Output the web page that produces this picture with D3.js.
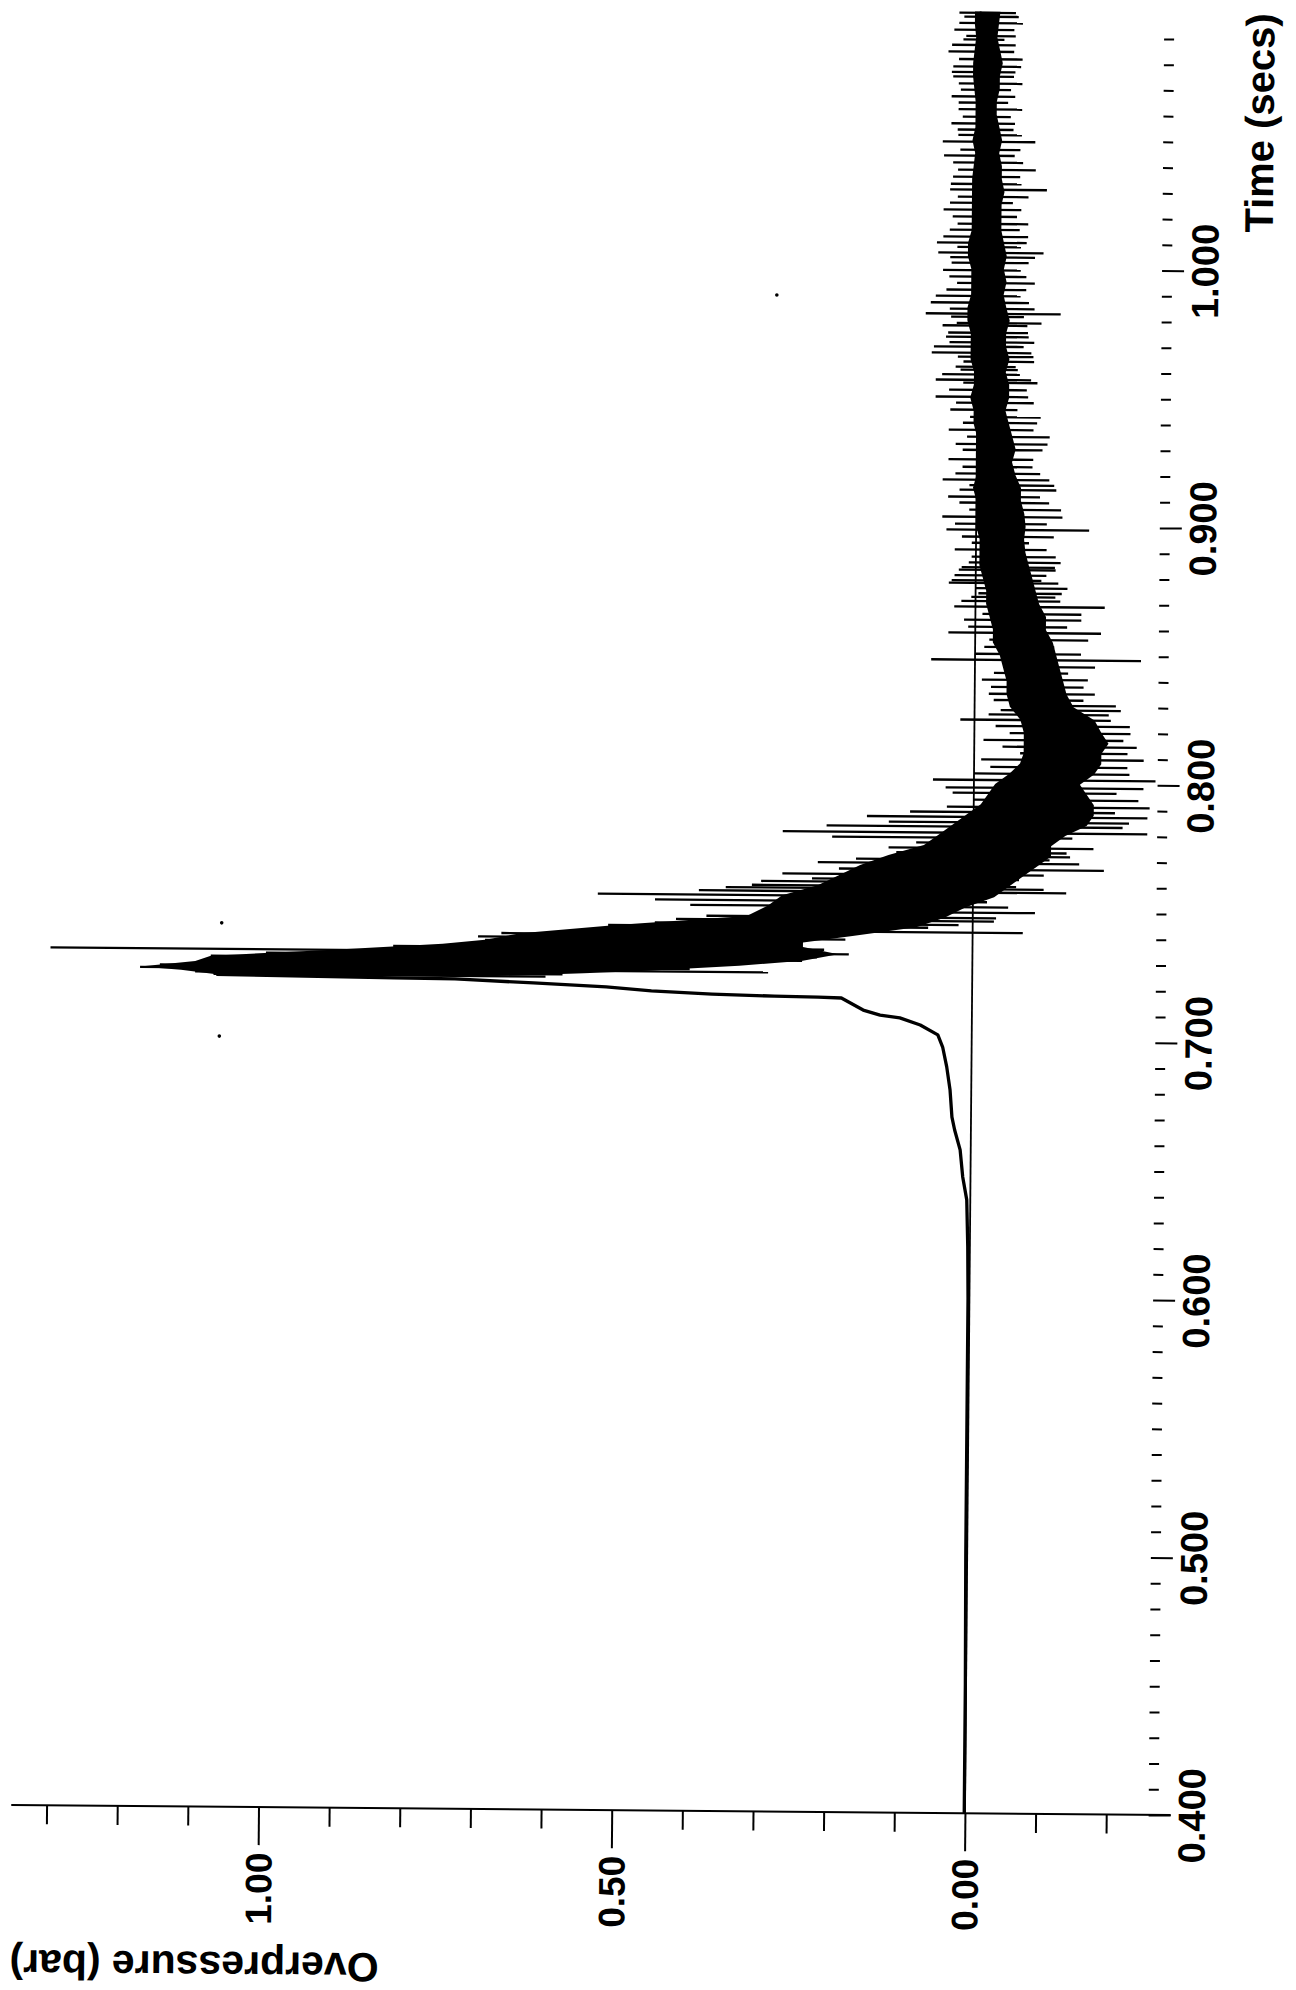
<!DOCTYPE html>
<html><head><meta charset="utf-8">
<script src="https://cdn.jsdelivr.net/npm/d3@7"></script>
<style>
body{margin:0;background:#fff}
svg text{font-family:Arial,"Liberation Sans",sans-serif;font-weight:bold;fill:#000}
</style>
</head><body>
<svg id="chart" width="1296" height="1990"></svg>
<script>
// ---- data (time in s, overpressure in bar) ----
const riseT = [0.400,0.450,0.500,0.550,0.600,0.620,0.6383,0.6472,0.6577,0.6654,0.6704,0.6809,0.6899,0.6976,0.7023,0.7061,0.7088,0.7098,0.7117,0.7163,0.7166,0.7168,0.7174,0.7184,0.7198,0.7211,0.7224,0.7226,0.7228,0.7234];
const riseP = [0.001,0.001,0.002,0.002,0.002,0.003,0.005,0.011,0.015,0.023,0.027,0.030,0.035,0.041,0.048,0.073,0.102,0.130,0.154,0.185,0.218,0.280,0.368,0.454,0.518,0.621,0.732,0.818,0.890,1.070];

const coreT = [0.7234,0.7250,0.7262,0.7285,0.7306,0.7333,0.7360,0.7377,0.7404,0.7440,0.7478,0.7520,0.7560,0.7600,0.7640,0.7680,0.7720,0.7760,0.7800,0.7840,0.7880,0.7920,0.7960,0.8000,0.8040,0.8080,0.8120,0.8160,0.8200,0.8250,0.8300,0.8350,0.8400,0.8450,0.8500,0.8550,0.8600,0.8650,0.8700,0.8750,0.8800,0.8850,0.8900,0.8950,0.9000,0.9050,0.9100,0.9150,0.9200,0.9250,0.9300,0.9350,0.9400,0.9450,0.9500,0.9550,0.9600,0.9650,0.9700,0.9750,0.9800,0.9850,0.9900,0.9950,1.0000,1.0050,1.0100,1.0150,1.0200,1.0250,1.0300,1.0350,1.0400,1.0450,1.0500,1.0550,1.0600,1.0650,1.0700,1.0750,1.0800,1.0850,1.0900,1.0950,1.1000];
const coreHi = [1.07,1.12,1.178,1.10,1.078,0.905,0.75,0.69,0.64,0.50,0.32,0.29,0.27,0.22,0.19,0.16,0.12,0.07,0.05,0.03,0.01,-0.01,-0.02,-0.03,-0.05,-0.065,-0.07,-0.07,-0.07,-0.065,-0.05,-0.045,-0.045,-0.04,-0.035,-0.025,-0.025,-0.02,-0.015,-0.015,-0.01,-0.005,-0.005,-0.005,0.00,0.00,0.00,0.005,0.00,0.00,0.00,0.00,0.005,0.005,0.01,0.005,0.005,0.01,0.01,0.01,0.015,0.015,0.01,0.01,0.01,0.015,0.015,0.01,0.01,0.01,0.01,0.01,0.008,0.006,0.01,0.006,0.006,0.006,0.008,0.01,0.01,0.008,0.006,0.008,0.008];
const coreLo = [0.70,0.55,0.46,0.33,0.24,0.19,0.24,0.24,0.17,0.08,0.04,0.01,-0.03,-0.05,-0.07,-0.09,-0.11,-0.11,-0.13,-0.16,-0.17,-0.17,-0.16,-0.15,-0.17,-0.18,-0.18,-0.19,-0.18,-0.17,-0.14,-0.13,-0.125,-0.12,-0.115,-0.11,-0.10,-0.10,-0.09,-0.085,-0.08,-0.075,-0.07,-0.068,-0.07,-0.068,-0.063,-0.063,-0.055,-0.05,-0.055,-0.05,-0.045,-0.04,-0.045,-0.045,-0.04,-0.045,-0.04,-0.04,-0.045,-0.04,-0.036,-0.04,-0.036,-0.04,-0.036,-0.032,-0.032,-0.032,-0.036,-0.032,-0.032,-0.028,-0.032,-0.028,-0.024,-0.024,-0.028,-0.028,-0.032,-0.028,-0.024,-0.026,-0.028];

// excursions read as row extremes
const spikeT = [0.7236,0.7260,0.7295,0.7306,0.7333,0.7377,0.7404,0.7421,0.7439,0.7478,0.7499,0.7560,0.7577,0.7600,0.7627,0.7666,0.7705,0.7717,0.7732,0.7770,0.7809,0.7833,0.7871,0.7910,0.7938,0.7965,0.8015,0.8066,0.8120,0.8171,0.8198,0.8249,0.8287,0.8326,0.8377,0.8431,0.8482,0.8532,0.8587,0.8637,0.8688,0.8726,0.8740,0.8780,0.8790,0.8831,0.8841,0.8882,0.8936,0.8987,0.9037,0.9092,0.9142,0.9181,0.9231,0.9297,0.9348,0.9402,0.9453,0.9503,0.9558,0.9569,0.9608,0.9620,0.9659,0.9674,0.9698,0.9736,0.9752,0.9814,0.9826,0.9869,0.9919,0.9970,1.0024,1.0063,1.0102,1.0152,1.0203,1.0257,1.0308,1.0358,1.0413,1.0463,1.0494,1.0541,1.0591,1.0646,1.0696,1.0747,1.0786,1.0844,1.0891,1.0929,1.0980];
const spikeHi = [1.074,1.178,0.98,1.078,1.305,0.690,0.667,0.40,0.516,0.377,0.30,0.531,0.388,0.313,0.228,0.190,0.166,0.10,0.109,0.081,0.270,0.208,0.151,0.038,0.00,0.030,0.058,-0.023,-0.065,-0.013,-0.05,0.020,-0.037,-0.027,-0.023,-0.027,0.062,-0.013,0.038,0.016,0.030,0.006,-0.004,0.038,0.034,0.024,0.020,0.006,0.006,0.042,0.048,0.024,0.024,0.048,0.020,0.020,0.014,0.020,0.038,0.059,0.020,0.059,0.024,0.031,0.028,0.065,0.062,0.045,0.042,0.038,0.074,0.067,0.045,0.041,0.038,0.057,0.059,0.041,0.037,0.041,0.041,0.037,0.037,0.027,0.052,0.031,0.024,0.030,0.027,0.038,0.038,0.045,0.024,0.037,0.023];
const spikeLo = [0.604,0.289,0.35,0.241,0.175,0.269,0.202,-0.071,0.063,-0.033,-0.088,0.10,-0.132,-0.061,-0.065,-0.185,-0.108,-0.137,-0.132,-0.084,-0.246,-0.211,-0.246,-0.249,-0.233,-0.202,-0.257,-0.217,-0.217,-0.211,-0.221,-0.193,-0.207,-0.154,-0.154,-0.132,-0.235,-0.112,-0.178,-0.150,-0.183,-0.113,-0.122,-0.117,-0.093,-0.113,-0.112,-0.113,-0.075,-0.16,-0.122,-0.103,-0.113,-0.103,-0.079,-0.093,-0.103,-0.085,-0.057,-0.072,-0.085,-0.076,-0.057,-0.054,-0.079,-0.076,-0.065,-0.072,-0.071,-0.065,-0.117,-0.072,-0.068,-0.068,-0.071,-0.092,-0.068,-0.058,-0.054,-0.048,-0.096,-0.058,-0.062,-0.058,-0.079,-0.048,-0.044,-0.040,-0.044,-0.048,-0.058,-0.048,-0.034,-0.048,-0.054];

// shorter excursions estimated between the rows above
const minorT = [0.7245,0.7270,0.7320,0.7350,0.7390,0.7450,0.7465,0.7520,0.7540,0.7590,0.7615,0.7645,0.7690,0.7750,0.7790,0.7850,0.7890,0.7985,0.8040,0.8095,0.8145,0.8225,0.8270,0.8305,0.8350,0.8405,0.8455,0.8505,0.8560,0.8610,0.8660,0.8710,0.8760,0.8810,0.8860,0.8910,0.8960,0.9010,0.9065,0.9115,0.9160,0.9205,0.9260,0.9320,0.9375,0.9425,0.9480,0.9530,0.9590,0.9640,0.9715,0.9780,0.9790,0.9845,0.9895,0.9945,0.9995,1.0045,1.0085,1.0125,1.0175,1.0230,1.0280,1.0330,1.0385,1.0440,1.0520,1.0565,1.0620,1.0670,1.0720,1.0765,1.0815,1.0870,1.0905,1.0955,1.0995];
const minorHi = [1.10,1.15,1.00,0.82,0.70,0.45,0.42,0.40,0.45,0.35,0.30,0.27,0.22,0.12,0.20,0.12,0.09,0.04,0.00,-0.01,-0.04,-0.03,-0.02,-0.05,-0.02,-0.01,-0.04,0.00,-0.02,0.01,-0.01,0.02,0.00,0.03,0.01,0.03,0.02,0.03,0.01,0.04,0.01,0.03,0.04,0.03,0.04,0.01,0.03,0.04,0.05,0.02,0.04,0.05,0.03,0.04,0.06,0.03,0.05,0.04,0.03,0.05,0.03,0.05,0.03,0.04,0.03,0.05,0.03,0.04,0.03,0.04,0.03,0.04,0.03,0.04,0.02,0.03,0.03];
const minorLo = [0.58,0.40,0.22,0.21,0.18,0.02,-0.03,-0.05,-0.02,-0.10,-0.04,-0.10,-0.15,-0.17,-0.14,-0.22,-0.20,-0.24,-0.22,-0.24,-0.23,-0.22,-0.19,-0.20,-0.17,-0.16,-0.17,-0.15,-0.16,-0.13,-0.15,-0.12,-0.13,-0.10,-0.12,-0.10,-0.11,-0.10,-0.12,-0.09,-0.11,-0.09,-0.08,-0.10,-0.08,-0.09,-0.08,-0.07,-0.06,-0.08,-0.08,-0.07,-0.09,-0.08,-0.06,-0.08,-0.06,-0.08,-0.06,-0.07,-0.07,-0.06,-0.07,-0.06,-0.08,-0.05,-0.06,-0.05,-0.06,-0.05,-0.06,-0.05,-0.06,-0.05,-0.05,-0.06,-0.05];

const strayT = [0.6994,0.7434,0.9892];
const strayP = [1.065,1.063,0.285];

const pressureMajor = [0, 0.5, 1.0];
const pressureLabels = ["0.00", "0.50", "1.00"];
const pressureMinor = [-0.2,-0.1,0.1,0.2,0.3,0.4,0.6,0.7,0.8,0.9,1.1,1.2,1.3];
const timeMajor = [0.4,0.5,0.6,0.7,0.8,0.9,1.0];
const timeLabels = ["0.400","0.500","0.600","0.700","0.800","0.900","1.000"];
const timeMinorStep = 0.01;

// ---- scales ----
const x = d3.scaleLinear().domain([-0.26, 1.35]).range([1155.7, 18.3]);
const y = d3.scaleLinear().domain([0.4, 1.1]).range([1810.5, 8.7]);

const svg = d3.select("#chart");
const g = svg.append("g").attr("transform", "rotate(0.5,650,1000)");

// zero reference line
g.append("line")
  .attr("x1", x(0)).attr("x2", x(0))
  .attr("y1", y(0.4)).attr("y2", y(1.1))
  .attr("stroke", "#000").attr("stroke-width", 1.8);

// pre-blast rise
const rise = riseT.map((t, i) => [t, riseP[i]]);
g.append("path").datum(rise)
  .attr("d", d3.line().x(d => x(d[1])).y(d => y(d[0])))
  .attr("fill", "none").attr("stroke", "#000").attr("stroke-width", 3.3)
  .attr("stroke-linejoin", "round");

// dense noise core
const core = coreT.map((t, i) => ({t, hi: coreHi[i], lo: coreLo[i]}));
g.append("path").datum(core)
  .attr("d", d3.area().y(d => y(d.t)).x0(d => x(d.hi)).x1(d => x(d.lo)))
  .attr("fill", "#000");

// excursions
const spikes = spikeT.map((t, i) => ({t, hi: spikeHi[i], lo: spikeLo[i]}))
  .concat(minorT.map((t, i) => ({t, hi: minorHi[i], lo: minorLo[i]})));
g.append("g").selectAll("line").data(spikes).join("line")
  .attr("x1", d => x(d.hi)).attr("x2", d => x(d.lo))
  .attr("y1", d => y(d.t)).attr("y2", d => y(d.t))
  .attr("stroke", "#000").attr("stroke-width", 2.3);

// stray marks
g.append("g").selectAll("circle").data(strayT.map((t, i) => ({t, p: strayP[i]}))).join("circle")
  .attr("cx", d => x(d.p)).attr("cy", d => y(d.t)).attr("r", 1.8).attr("fill", "#000");

// ---- overpressure axis (at t = 0.400) ----
const timeMajorLen = 22, timeMinorLen = 10;
const axisY = y(0.4);
g.append("line")
  .attr("x1", x(1.35)).attr("x2", x(-0.26) + timeMajorLen)
  .attr("y1", axisY).attr("y2", axisY)
  .attr("stroke", "#000").attr("stroke-width", 2);

const pMinorAxis = g.append("g").attr("transform", `translate(0,${axisY})`)
  .call(d3.axisBottom(x).tickValues(pressureMinor).tickSize(19).tickFormat(""));
const pMajorAxis = g.append("g").attr("transform", `translate(0,${axisY})`)
  .call(d3.axisBottom(x).tickValues(pressureMajor).tickSize(38)
    .tickFormat((d, i) => pressureLabels[i]));
[pMinorAxis, pMajorAxis].forEach(a => {
  a.select(".domain").remove();
  a.selectAll(".tick line").attr("stroke", "#000").attr("stroke-width", 2);
});
pMajorAxis.selectAll(".tick text")
  .attr("x", null).attr("y", null).attr("dy", "0.35em")
  .attr("transform", "translate(0,45.5) rotate(-90)")
  .attr("text-anchor", "end")
  .style("font-size", "37px").style("font-family", "Arial, 'Liberation Sans', sans-serif").style("font-weight", "bold");

// ---- time axis (at p = -0.26) ----
const axisX = x(-0.26);
const timeMinor = d3.range(0, 70).map(k => +(0.40 + k * timeMinorStep).toFixed(2))
  .filter(v => !timeMajor.some(m => Math.abs(m - v) < 1e-6));
const tMinorAxis = g.append("g").attr("transform", `translate(${axisX},0)`)
  .call(d3.axisRight(y).tickValues(timeMinor).tickSize(timeMinorLen).tickFormat(""));
const tMajorAxis = g.append("g").attr("transform", `translate(${axisX},0)`)
  .call(d3.axisRight(y).tickValues(timeMajor).tickSize(timeMajorLen)
    .tickFormat((d, i) => timeLabels[i]));
[tMinorAxis, tMajorAxis].forEach(a => {
  a.select(".domain").remove();
  a.selectAll(".tick line").attr("stroke", "#000").attr("stroke-width", 2);
});
tMajorAxis.selectAll(".tick text")
  .attr("x", null).attr("y", null).attr("dy", "0.35em")
  .attr("transform", "translate(43,0) rotate(-90)")
  .attr("text-anchor", "middle")
  .style("font-size", "38px").style("font-family", "Arial, 'Liberation Sans', sans-serif").style("font-weight", "bold");

// ---- titles ----
g.append("text")
  .attr("transform", `translate(1266,${y(1.1) - 0.7}) rotate(-90)`)
  .attr("text-anchor", "end")
  .style("font-size", "40px")
  .text("Time (secs)");

g.append("text")
  .attr("transform", "translate(387,1955.6) rotate(180)")
  .attr("text-anchor", "start")
  .style("font-size", "41px")
  .text("Overpressure (bar)");
</script>
</body></html>
